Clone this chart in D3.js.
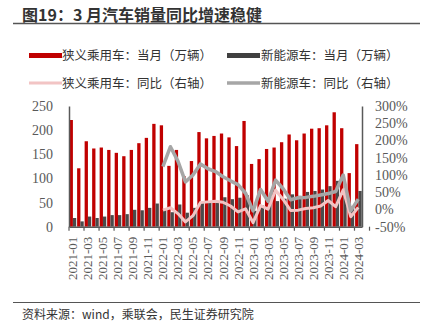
<!DOCTYPE html>
<html><head><meta charset="utf-8">
<script src="https://cdn.jsdelivr.net/npm/d3@7"></script>
<style>
body{margin:0;background:#fff;}
svg{display:block;}
</style></head>
<body><svg id="c" width="428" height="329"></svg>
<script>
const months = ["2021-01","2021-02","2021-03","2021-04","2021-05","2021-06","2021-07","2021-08","2021-09","2021-10","2021-11","2021-12",
"2022-01","2022-02","2022-03","2022-04","2022-05","2022-06","2022-07","2022-08","2022-09","2022-10","2022-11","2022-12",
"2023-01","2023-02","2023-03","2023-04","2023-05","2023-06","2023-07","2023-08","2023-09","2023-10","2023-11","2023-12",
"2024-01","2024-02","2024-03"];
const tickLabels = ["2021-01","2021-03","2021-05","2021-07","2021-09","2021-11","2022-01","2022-03","2022-05","2022-07","2022-09","2022-11","2023-01","2023-03","2023-05","2023-07","2023-09","2023-11","2024-01","2024-03"];
const passengerMonthly = [221,121,177,162,164,159,153,146,159,173,184,213,
 210,126,159,105,136,196,183,188,193,185,167,219,
 130,140,161,164,175,191,179,193,203,204,210,237,
 204,111,171];
const nevMonthly = [18,11,21,18,21,24,24,26,35,34,39,48,
 37,30,46,29,39,52,50,53,61,57,60,65,
 33,44,55,53,58,67,64,72,74,77,84,95,
 67,39,74];
const passengerYoY = [null,null,null,null,null,null,null,null,null,null,null,null,
 -2,5,-12,-36,-18,20,22,24,21,10,-7,2,
 -38,11,1,56,29,-3,-2,3,5,10,26,8,
 57,-21,6];
const nevYoY = [null,null,null,null,null,null,null,null,null,null,null,null,
 124,182,140,80,100,132,118,110,95,83,72,47,
 -4,58,24,85,60,28,34,35,38,42,46,52,
 100,-4,30];
const leftTicks = [0,50,100,150,200,250];
const rightTicks = [-50,0,50,100,150,200,250,300];
const legendItems = ["狭义乘用车：当月（万辆）","新能源车：当月（万辆）","狭义乘用车：同比（右轴）","新能源车：同比（右轴）"];

const svg = d3.select("#c");
const X0=69, X1=362, YT=106, YB=226.7;
const x = d3.scaleBand().domain(months).range([X0,X1]).padding(0);
const yL = d3.scaleLinear().domain([0,250]).range([YB,YT]);
const yR = d3.scaleLinear().domain([-50,300]).range([YB,YT]);
const bw = x.bandwidth();
const axisColor="#595959";
const cjk = "'Noto Sans CJK SC','Noto Sans',sans-serif";
const serif = "'Liberation Serif','DejaVu Serif',serif";

// title
svg.append("text").attr("x",22).attr("y",21).text("图19：3 月汽车销量同比增速稳健")
 .attr("font-family",cjk).attr("font-weight","bold").attr("font-size",16).attr("fill","#333");
svg.append("line").attr("x1",13).attr("x2",420).attr("y1",23.5).attr("y2",23.5).attr("stroke","#555").attr("stroke-width",1.5);

// legend
const lg = svg.append("g").attr("font-family",cjk).attr("font-size",12.5).attr("fill","#333");
lg.append("rect").attr("x",29).attr("y",53).attr("width",33).attr("height",5).attr("fill","#C00000");
lg.append("text").attr("x",62).attr("y",59.5).text(legendItems[0]);
lg.append("rect").attr("x",227).attr("y",53).attr("width",33).attr("height",5).attr("fill","#404040");
lg.append("text").attr("x",261).attr("y",59.5).text(legendItems[1]);
lg.append("line").attr("x1",29).attr("x2",62).attr("y1",83).attr("y2",83).attr("stroke","#F2C4C4").attr("stroke-width",3);
lg.append("text").attr("x",62).attr("y",87.5).text(legendItems[2]);
lg.append("line").attr("x1",227).attr("x2",260).attr("y1",83).attr("y2",83).attr("stroke","#A6A6A6").attr("stroke-width",3.5);
lg.append("text").attr("x",261).attr("y",87.5).text(legendItems[3]);

// bars
svg.append("g").selectAll("rect").data(months).join("rect")
 .attr("x",(d)=>x(d)+bw*0.08).attr("width",bw*0.44)
 .attr("y",(d,i)=>yL(passengerMonthly[i])).attr("height",(d,i)=>YB-yL(passengerMonthly[i]))
 .attr("fill","#C00000");
svg.append("g").selectAll("rect").data(months).join("rect")
 .attr("x",(d)=>x(d)+bw*0.52).attr("width",bw*0.44)
 .attr("y",(d,i)=>yL(nevMonthly[i])).attr("height",(d,i)=>YB-yL(nevMonthly[i]))
 .attr("fill","#4a4a4a");

// lines
const mk = (arr)=>d3.line().defined((d,i)=>arr[i]!==null)
 .x((d)=>x(d)+bw/2).y((d,i)=>yR(arr[i]));
svg.append("path").attr("d",mk(passengerYoY)(months)).attr("fill","none")
 .attr("stroke","#F2C4C4").attr("stroke-width",3).attr("stroke-linejoin","round");
svg.append("path").attr("d",mk(nevYoY)(months)).attr("fill","none")
 .attr("stroke","#A6A6A6").attr("stroke-width",3.5).attr("stroke-linejoin","round");

// left axis
const gl = svg.append("g").attr("transform",`translate(${X0},0)`)
 .call(d3.axisLeft(yL).tickValues(leftTicks).tickSize(0).tickPadding(16));
gl.select(".domain").attr("stroke",axisColor).attr("stroke-width",1.5);
gl.selectAll("text").attr("font-family",serif).attr("font-size",14).attr("fill",axisColor);
// right axis
const gr = svg.append("g").attr("transform",`translate(${X1},0)`)
 .call(d3.axisRight(yR).tickValues(rightTicks).tickSize(0).tickPadding(13).tickFormat(d=>d+"%"));
gr.select(".domain").attr("stroke",axisColor).attr("stroke-width",1.5);
gr.selectAll("text").attr("font-family",serif).attr("font-size",14).attr("fill",axisColor);

// bottom axis
const gb = svg.append("g").attr("transform",`translate(0,${YB})`)
 .call(d3.axisBottom(x).tickValues(tickLabels).tickSize(0).tickPadding(0));
gb.select(".domain").attr("stroke",axisColor).attr("stroke-width",1.5);
gb.selectAll("text").attr("font-family",serif).attr("font-size",13).attr("fill",axisColor)
 .attr("text-anchor","end").attr("dy",null).attr("y",0)
 .attr("transform","translate(0,10) rotate(-90)").attr("dominant-baseline","central");
// tick marks every 2 bands at band boundaries
gb.selectAll("line.tk").data(tickLabels).join("line").attr("class","tk")
 .attr("x1",d=>x(d)+2*bw).attr("x2",d=>x(d)+2*bw).attr("y1",0).attr("y2",4)
 .attr("stroke",axisColor).attr("stroke-width",1.2);
gb.append("line").attr("x1",X0).attr("x2",X0).attr("y1",0).attr("y2",4).attr("stroke",axisColor).attr("stroke-width",1.2);

// footer
svg.append("line").attr("x1",13).attr("x2",420).attr("y1",302.5).attr("y2",302.5).attr("stroke","#555").attr("stroke-width",1.2);
svg.append("text").attr("x",22).attr("y",318.5).text("资料来源：wind，乘联会，民生证券研究院")
 .attr("font-family",cjk).attr("font-size",12).attr("fill","#333");
</script></body></html>
